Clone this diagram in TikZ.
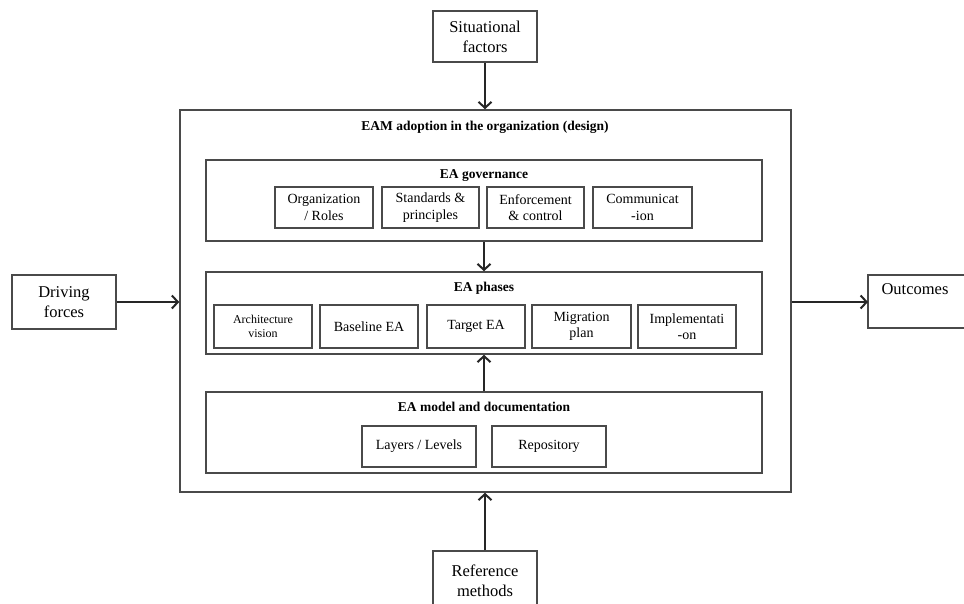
\documentclass[tikz,border=0pt]{standalone}
\usepackage{fontspec}
\setmainfont{Liberation Serif}
\usetikzlibrary{arrows.meta}
\definecolor{lg}{HTML}{4A4A4A}
\tikzset{
  x=1pt,y=-1pt,
  box/.style={draw=lg,line width=1.5pt,rectangle,inner sep=0pt,align=center,font=\fontsize{14}{16.5}\selectfont},
  bigbox/.style={box,font=\fontsize{16.5}{20}\selectfont},
  title/.style={font=\bfseries\fontsize{13.5}{16}\selectfont,inner sep=0pt},
  arr/.style={draw=black!85,line width=2pt,-{Straight Barb[length=6pt,width=13pt,line width=2pt]}}
}
\begin{document}
\begin{tikzpicture}
\useasboundingbox (0,0) rectangle (964,603);
% outer nodes
\node[bigbox,minimum width=104,minimum height=51] (sit) at (485,36.5) {Situational\\factors};
\node[bigbox,minimum width=104,minimum height=54] (drv) at (64,302) {Driving\\forces};
\coordinate (out) at (868,302);
\draw[draw=lg,line width=1.5pt] (966,275) -- (868,275) -- (868,328) -- (966,328);
\node[anchor=north,inner sep=0pt,font=\fontsize{16.5}{20}\selectfont] (outt) at (915,283) {Outcomes};
\node[bigbox,minimum width=104,minimum height=60] (ref) at (485,581) {Reference\\methods};
% main
\node[box,minimum width=611,minimum height=382] (main) at (485.5,301) {};
\node[title] (maint) at (485,127) {EAM adoption in the organization (design)};
% governance
\node[box,minimum width=556,minimum height=81] (gov) at (484,200.5) {};
\node[title] (govt) at (484,176) {EA governance};
\node[box,minimum width=98,minimum height=41] (org) at (324,207.5) {Organization\\/ Roles};
\node[box,minimum width=97,minimum height=41] (std) at (430.5,207.5) {Standards \&\\principles};
\node[box,minimum width=97,minimum height=41] (enf) at (535.5,207.5) {Enforcement\\\& control};
\node[box,minimum width=99,minimum height=41] (com) at (642.5,207.5) {Communicat\\-ion};
% phases
\node[box,minimum width=556,minimum height=82] (pha) at (484,313) {};
\node[title] (phat) at (484,288) {EA phases};
\node[box,minimum width=98,minimum height=43,font=\fontsize{12}{14}\selectfont] (arc) at (263,326.5) {Architecture\\vision};
\node[box,minimum width=98,minimum height=43] (bas) at (369,326.5) {Baseline EA};
\node[box,minimum width=98,minimum height=43] (tar) at (476,326.5) {Target EA};
\node[box,minimum width=99,minimum height=43] (mig) at (581.5,326.5) {Migration\\plan};
\node[box,minimum width=98,minimum height=43] (imp) at (687,326.5) {Implementati\\-on};
% model
\node[box,minimum width=556,minimum height=81] (mod) at (484,432.5) {};
\node[title] (modt) at (484,407) {EA model and documentation};
\node[box,minimum width=114,minimum height=41] (lay) at (419,446.5) {Layers / Levels};
\node[box,minimum width=114,minimum height=41] (rep) at (549,446.5) {Repository};
% arrows
\draw[arr] (sit.south) -- (sit.south |- main.north);
\draw[arr] (gov.south) -- (gov.south |- pha.north);
\draw[arr] (mod.north) -- (mod.north |- pha.south);
\draw[arr] (ref.north) -- (ref.north |- main.south);
\draw[arr] (drv.east) -- (drv.east -| main.west);
\draw[arr] (main.east |- out) -- (out);
\end{tikzpicture}
\end{document}
